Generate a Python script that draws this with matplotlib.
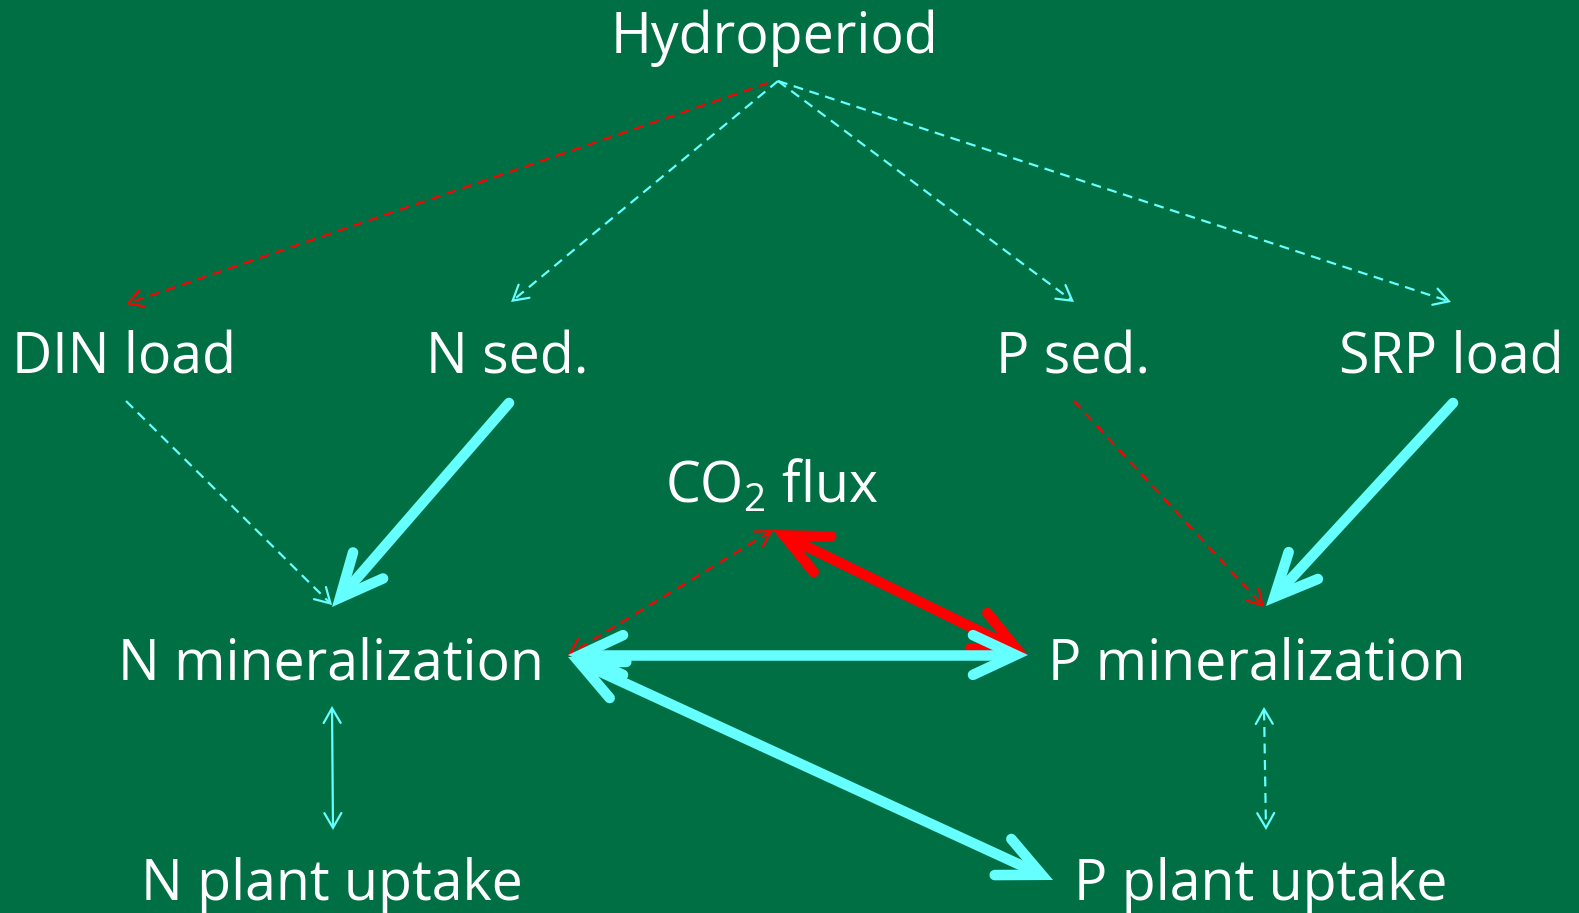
import numpy as np
import matplotlib.pyplot as plt

# canvas in pixel units, y grows downward
W, H = 1579, 913
BG = '#007044'
CYAN = '#66FFFF'
RED = '#FF0000'

plt.rcParams['font.family'] = ['Open Sans', 'DejaVu Sans']
plt.rcParams['mathtext.fontset'] = 'custom'
plt.rcParams['mathtext.rm'] = 'Open Sans'
plt.rcParams['mathtext.default'] = 'regular'

# node labels and their baseline anchor points
labels = ["Hydroperiod", "DIN load", "N sed.", "P sed.", "SRP load", "CO$_2$ flux",
          "N mineralization", "P mineralization", "N plant uptake", "P plant uptake"]
label_x = [775, 124, 507, 1073, 1451, 772, 331, 1257, 332, 1261]
label_y = [53, 374, 374, 374, 374, 502, 679, 679, 900, 900]

# links: start, end, colour, weight ('thick'/'thin'), dashed, head at both ends
edge_start = [(768, 83), (778, 81), (778, 81), (778, 81), (126, 401), (1074, 401),
              (773, 530), (509, 403), (1453, 403), (773, 530), (568, 655),
              (568, 657), (332, 706), (1264, 707)]
edge_end = [(126, 304), (511, 302), (1074, 302), (1451, 302), (332, 605), (1264, 607),
            (568, 655), (332, 607), (1266, 606), (1028, 655), (1028, 655),
            (1053, 880), (333, 830), (1266, 830)]
edge_color = [RED, CYAN, CYAN, CYAN, CYAN, RED,
              RED, CYAN, CYAN, RED, CYAN,
              CYAN, CYAN, CYAN]
edge_weight = ['thin', 'thin', 'thin', 'thin', 'thin', 'thin',
               'thin', 'thick', 'thick', 'thick', 'thick',
               'thick', 'thin', 'thin']
edge_dashed = [True, True, True, True, True, True,
               True, False, False, False, False,
               False, False, True]
edge_both = [False, False, False, False, False, False,
             True, False, False, True, True,
             True, True, True]

fig = plt.figure(figsize=(W / 100, H / 100), dpi=100, facecolor=BG)
ax = fig.add_axes([0, 0, 1, 1])
ax.set_xlim(0, W)
ax.set_ylim(H, 0)
ax.set_facecolor(BG)
ax.axis('off')

PX = 72 / 100  # points per pixel


def head(ax, tip, d, color, lw_px, arm, half):
    # open V head; tip pulled back so the mitred point lands on `tip`
    half = np.radians(half)
    c = tip - d * (lw_px / 2) / np.sin(half)
    back = -d
    rot = lambda v, a: np.array([v[0] * np.cos(a) - v[1] * np.sin(a),
                                 v[0] * np.sin(a) + v[1] * np.cos(a)])
    a1 = c + rot(back, half) * arm
    a2 = c + rot(back, -half) * arm
    ax.plot([a1[0], c[0], a2[0]], [a1[1], c[1], a2[1]], color=color,
            lw=lw_px * PX, solid_capstyle='round', solid_joinstyle='miter')
    return c


for s, e, col, w, dsh, both in zip(edge_start, edge_end, edge_color, edge_weight,
                                   edge_dashed, edge_both):
    s = np.array(s, float)
    e = np.array(e, float)
    d = (e - s) / np.linalg.norm(e - s)
    if w == 'thick':
        lw_px, arm, half = 10.5, 47, 25
    else:
        lw_px, arm, half = 2.2, 17, 30
    ce = head(ax, e, d, col, lw_px, arm, half)
    p1 = ce - d * (lw_px * 0.6)
    p0 = s
    if both:
        cs = head(ax, s, -d, col, lw_px, arm, half)
        p0 = cs + d * (lw_px * 0.6)
    if dsh:
        ax.plot([p0[0], p1[0]], [p0[1], p1[1]], color=col, lw=lw_px * PX,
                dashes=(4.5, 3), dash_capstyle='butt')
    else:
        ax.plot([p0[0], p1[0]], [p0[1], p1[1]], color=col, lw=lw_px * PX,
                solid_capstyle='round')

for txt, x, y in zip(labels, label_x, label_y):
    ax.text(x, y, txt, color='white', fontsize=40, ha='center', va='baseline')

fig.savefig('out.png', dpi=100, facecolor=BG)
